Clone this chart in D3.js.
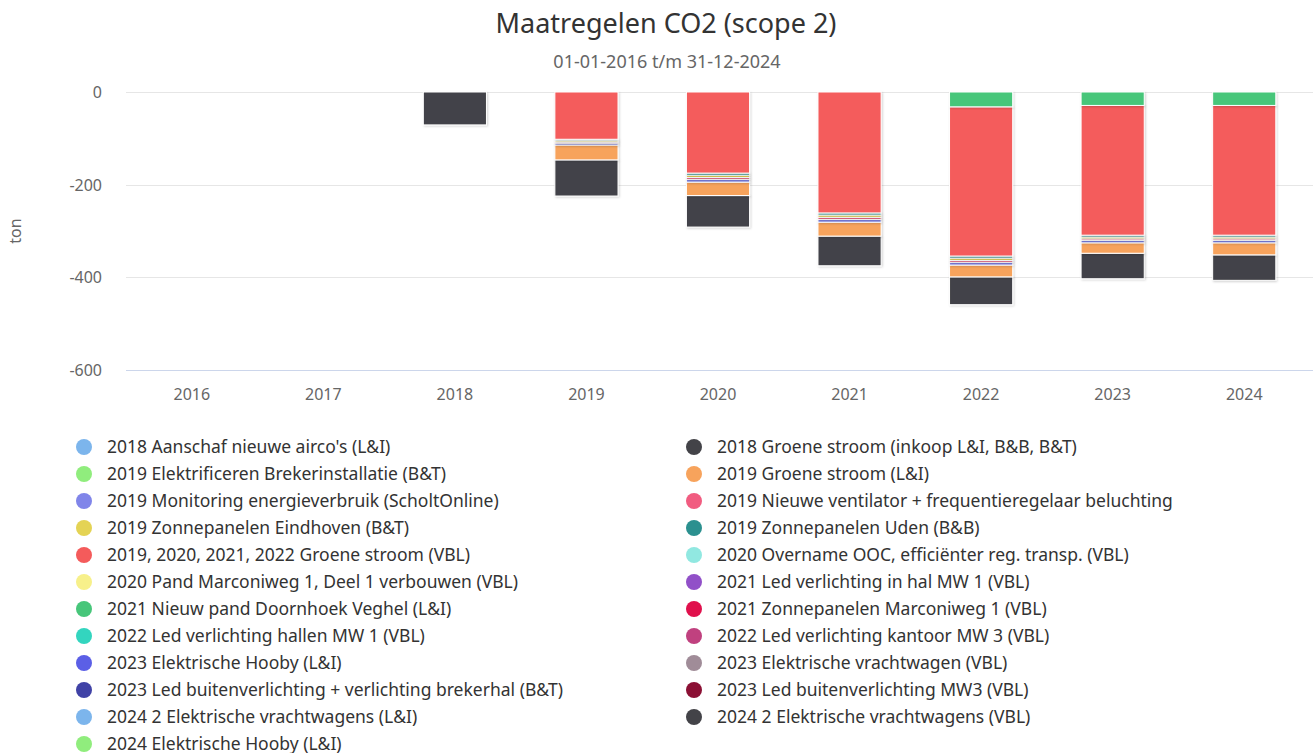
<!DOCTYPE html>
<html>
<head>
<meta charset="utf-8">
<script src="https://cdn.jsdelivr.net/npm/d3@7"></script>
<style>
  html, body { margin: 0; padding: 0; background: #fff; }
  svg { display: block; font-family: "Noto Sans", "Open Sans", sans-serif; }
</style>
</head>
<body>
<svg id="chart"></svg>
<script>
// Categories
const years = ['2016', '2017', '2018', '2019', '2020', '2021', '2022', '2023', '2024'];

// Series names (legend order)
const seriesNames = [
    "2018 Aanschaf nieuwe airco's (L&I)",
    "2018 Groene stroom (inkoop L&I, B&B, B&T)",
    "2019 Elektrificeren Brekerinstallatie (B&T)",
    "2019 Groene stroom (L&I)",
    "2019 Monitoring energieverbruik (ScholtOnline)",
    "2019 Nieuwe ventilator + frequentieregelaar beluchting",
    "2019 Zonnepanelen Eindhoven (B&T)",
    "2019 Zonnepanelen Uden (B&B)",
    "2019, 2020, 2021, 2022 Groene stroom (VBL)",
    "2020 Overname OOC, efficiënter reg. transp. (VBL)",
    "2020 Pand Marconiweg 1, Deel 1 verbouwen (VBL)",
    "2021 Led verlichting in hal MW 1 (VBL)",
    "2021 Nieuw pand Doornhoek Veghel (L&I)",
    "2021 Zonnepanelen Marconiweg 1 (VBL)",
    "2022 Led verlichting hallen MW 1 (VBL)",
    "2022 Led verlichting kantoor MW 3 (VBL)",
    "2023 Elektrische Hooby (L&I)",
    "2023 Elektrische vrachtwagen (VBL)",
    "2023 Led buitenverlichting + verlichting brekerhal (B&T)",
    "2023 Led buitenverlichting MW3 (VBL)",
    "2024 2 Elektrische vrachtwagens (L&I)",
    "2024 2 Elektrische vrachtwagens (VBL)",
    "2024 Elektrische Hooby (L&I)"
];

// Values in ton per year (2016 .. 2024)
const groeneStroom2018   = [0, 0, -71, -78, -68, -64, -60, -55, -55];
const groeneStroomLI     = [0, 0, 0, -32, -29, -30, -25.5, -22.5, -26];
const monitoring         = [0, 0, 0, -4, -6, -6, -6, -5, -5];
const ventilator         = [0, 0, 0, -2.5, -4, -4.5, -4, -3.5, -3.5];
const zonEindhoven       = [0, 0, 0, -3, -5, -5, -5, -4, -4];
const zonUden            = [0, 0, 0, -3, -4.5, -4.5, -4.5, -4, -4];
const groeneStroomVBL    = [0, 0, 0, -102, -175, -261, -322, -280, -280];
const doornhoek          = [0, 0, 0, 0, 0, 0, -32, -29, -29];

const seriesValues = {
    "2018 Groene stroom (inkoop L&I, B&B, B&T)": groeneStroom2018,
    "2019 Groene stroom (L&I)": groeneStroomLI,
    "2019 Monitoring energieverbruik (ScholtOnline)": monitoring,
    "2019 Nieuwe ventilator + frequentieregelaar beluchting": ventilator,
    "2019 Zonnepanelen Eindhoven (B&T)": zonEindhoven,
    "2019 Zonnepanelen Uden (B&B)": zonUden,
    "2019, 2020, 2021, 2022 Groene stroom (VBL)": groeneStroomVBL,
    "2021 Nieuw pand Doornhoek Veghel (L&I)": doornhoek
};

const yTicks = [0, -200, -400, -600];

const palette = [
    '#7cb5ec', '#434348', '#90ed7d', '#f7a35c', '#8085e9',
    '#f15c80', '#e4d354', '#2b908f', '#f45b5b', '#91e8e1',
    '#f7f08a', '#9150c8', '#47c67a', '#e0104c', '#33d5bf',
    '#c0417f', '#5b5fe6', '#a08c98', '#4042a6', '#8b1034'
];

const W = 1313, H = 753;
const svg = d3.select('#chart').attr('width', W).attr('height', H);

const plot = {left: 126, right: 1310, top: 92, bottom: 370};

// Table for stacking
const table = years.map((yr, i) => {
    const row = {year: yr};
    seriesNames.forEach(n => { row[n] = seriesValues[n] ? seriesValues[n][i] : 0; });
    return row;
});

const stacked = d3.stack()
    .keys(seriesNames)
    .order(d3.stackOrderReverse)
    .offset(d3.stackOffsetDiverging)(table);

// Scales
const x = d3.scaleBand().domain(years).range([plot.left, plot.right])
    .paddingInner(0.52).paddingOuter(0.26);
const y = d3.scaleLinear().domain([-600, 0]).range([plot.bottom, plot.top]);

// Shadow filter
const defs = svg.append('defs');
const f = defs.append('filter').attr('id', 'shadow')
    .attr('x', '-10%').attr('y', '-10%').attr('width', '130%').attr('height', '130%');
f.append('feDropShadow').attr('dx', 1).attr('dy', 1).attr('stdDeviation', 1)
    .attr('flood-color', '#000').attr('flood-opacity', 0.18);

// Title
svg.append('text').attr('x', 666).attr('y', 33).attr('text-anchor', 'middle')
    .attr('fill', '#333').attr('font-size', 27).text('Maatregelen CO2 (scope 2)');
svg.append('text').attr('x', 667).attr('y', 68).attr('text-anchor', 'middle')
    .attr('fill', '#666').attr('font-size', 18).text('01-01-2016 t/m 31-12-2024');

// Grid lines
svg.append('g').selectAll('line').data(yTicks.filter(t => t !== -600)).join('line')
    .attr('x1', plot.left).attr('x2', W)
    .attr('y1', d => Math.round(y(d)) + 0.5).attr('y2', d => Math.round(y(d)) + 0.5)
    .attr('stroke', '#e6e6e6');

// Y axis
const yAxis = svg.append('g').attr('transform', `translate(${plot.left - 24},0)`)
    .call(d3.axisLeft(y).tickValues(yTicks).tickSize(0).tickPadding(0).tickFormat(d => String(d)));
yAxis.select('.domain').remove();
yAxis.selectAll('text').attr('fill', '#666').attr('font-size', 16)
    .attr('font-family', '"Noto Sans", sans-serif').attr('dy', '0.35em');

svg.append('text')
    .attr('transform', `translate(21,${(plot.top + plot.bottom) / 2}) rotate(-90)`)
    .attr('text-anchor', 'middle').attr('fill', '#666').attr('font-size', 16).text('ton');

// X axis
const xAxis = svg.append('g').attr('transform', `translate(0,${plot.bottom})`)
    .call(d3.axisBottom(x).tickSize(0).tickPadding(0));
xAxis.select('.domain').attr('d', `M${plot.left},0.5H${W}`).attr('stroke', '#ccd6eb');
xAxis.selectAll('text').attr('fill', '#666').attr('font-size', 16)
    .attr('font-family', '"Noto Sans", sans-serif').attr('dy', 0).attr('y', 30);

// Bars
const barsG = svg.append('g');
stacked.forEach(s => {
    const idx = seriesNames.indexOf(s.key);
    const color = palette[idx % palette.length];
    barsG.append('g').attr('filter', 'url(#shadow)')
        .selectAll('rect')
        .data(s.filter(d => d[1] - d[0] !== 0))
        .join('rect')
        .attr('x', d => x(d.data.year))
        .attr('width', x.bandwidth())
        .attr('y', d => y(d[1]))
        .attr('height', d => y(d[0]) - y(d[1]))
        .attr('fill', color)
        .attr('stroke', '#fff')
        .attr('stroke-width', 1);
});

// Legend
const legend = svg.append('g');
const items = legend.selectAll('g').data(seriesNames).join('g')
    .attr('transform', (d, i) => {
        const col = i % 2, row = Math.floor(i / 2);
        return `translate(${col === 0 ? 84 : 694},${447 + row * 27})`;
    });
items.append('circle').attr('r', 8).attr('fill', (d, i) => palette[i % palette.length]);
items.append('text').attr('x', 23).attr('dy', '0.35em')
    .attr('fill', '#333').attr('font-size', 17.5).text(d => d);
</script>
</body>
</html>
